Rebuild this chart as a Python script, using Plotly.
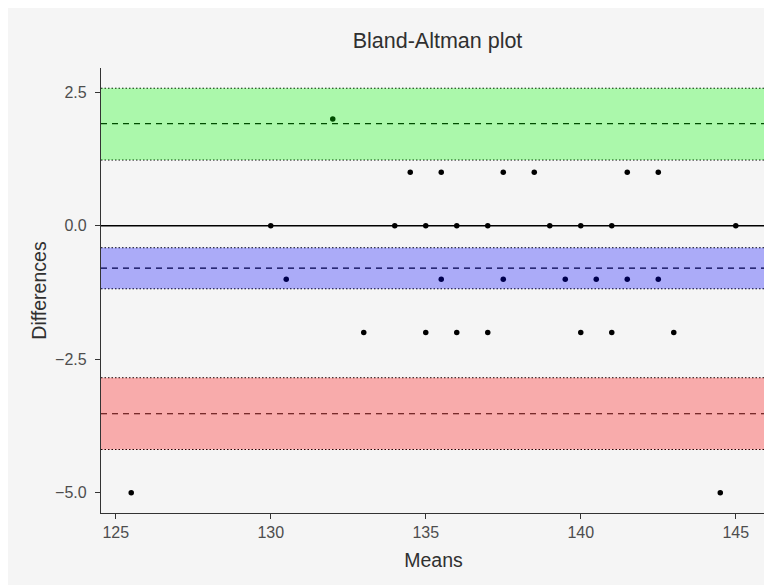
import plotly.graph_objects as go

# Data
means = [132,
         134.5, 135.5, 137.5, 138.5, 141.5, 142.5,
         130, 134, 135, 136, 137, 139, 140, 141, 145,
         130.5, 135.5, 137.5, 139.5, 140.5, 141.5, 142.5,
         133, 135, 136, 137, 140, 141, 143,
         125.5, 144.5]
diffs = [2,
         1, 1, 1, 1, 1, 1,
         0, 0, 0, 0, 0, 0, 0, 0, 0,
         -1, -1, -1, -1, -1, -1, -1,
         -2, -2, -2, -2, -2, -2, -2,
         -5, -5]

band_names = ["upper", "mean", "lower"]
band_centers = [1.913, -0.795, -3.52]
band_lows = [1.232, -1.18, -4.19]
band_highs = [2.575, -0.413, -2.845]
band_fills = ["rgba(0,255,0,0.3)", "rgba(0,0,255,0.3)", "rgba(255,0,0,0.3)"]

x_ticks = [125, 130, 135, 140, 145]
y_ticks = [2.5, 0.0, -2.5, -5.0]

W, H = 772, 585
ML, MR, MT, MB = 93, 14, 60, 80
BG = "#f5f5f5"
pw = W - ML - MR

fig = go.Figure()
fig.add_trace(go.Scatter(
    x=means, y=diffs, mode="markers",
    marker=dict(color="black", size=5.5, line=dict(width=0)),
    showlegend=False, hoverinfo="x+y"))

shapes = []
# zero line
shapes.append(dict(type="line", xref="paper", x0=0, x1=1, yref="y", y0=0, y1=0,
                   line=dict(color="black", width=1.3), layer="below"))
for c, lo, hi in zip(band_centers, band_lows, band_highs):
    shapes.append(dict(type="line", xref="paper", x0=0, x1=1, yref="y", y0=c, y1=c,
                       line=dict(color="black", width=1.2, dash="6px,5px"), layer="below"))
    for v in (lo, hi):
        shapes.append(dict(type="line", xref="paper", x0=0, x1=1, yref="y", y0=v, y1=v,
                           line=dict(color="black", width=1.1, dash="1.5px,2px"), layer="below"))
for lo, hi, fc in zip(band_lows, band_highs, band_fills):
    shapes.append(dict(type="rect", xref="paper", x0=0, x1=1, yref="y", y0=lo, y1=hi,
                       fillcolor=fc, line=dict(width=0), layer="above"))

fig.update_layout(
    width=W, height=H,
    margin=dict(l=ML, r=MR, t=MT, b=MB),
    paper_bgcolor=BG, plot_bgcolor=BG,
    font=dict(family="Liberation Sans, Arial, sans-serif"),
    title=dict(text="Bland-Altman plot", x=(ML + pw / 2 + 4) / W, xanchor="center",
               y=1 - 32 / H, yanchor="middle", yref="container",
               font=dict(size=21.5, color="#303030")),
    shapes=shapes,
    showlegend=False,
)
fig.update_xaxes(
    range=[124.525, 145.975], tickvals=x_ticks, ticktext=[str(v) for v in x_ticks],
    showgrid=False, zeroline=False, showline=True, linecolor="#333333", linewidth=1.3,
    ticks="outside", ticklen=5, tickwidth=1.2, tickcolor="#333333",
    tickfont=dict(size=16, color="#4d4d4d"),
    title=dict(text="Means", font=dict(size=19.5, color="#303030"), standoff=13),
    automargin=False,
)
fig.update_yaxes(
    range=[-5.379, 2.954], tickvals=y_ticks, tickformat=".1f",
    showgrid=False, zeroline=False, showline=True, linecolor="#333333", linewidth=1.3,
    ticks="outside", ticklen=5, tickwidth=1.2, tickcolor="#333333",
    tickfont=dict(size=16, color="#4d4d4d"), ticklabelstandoff=5,
    title=dict(text="Differences", font=dict(size=19.5, color="#303030"), standoff=3),
    automargin=False,
)

fig.write_html("out.html")
